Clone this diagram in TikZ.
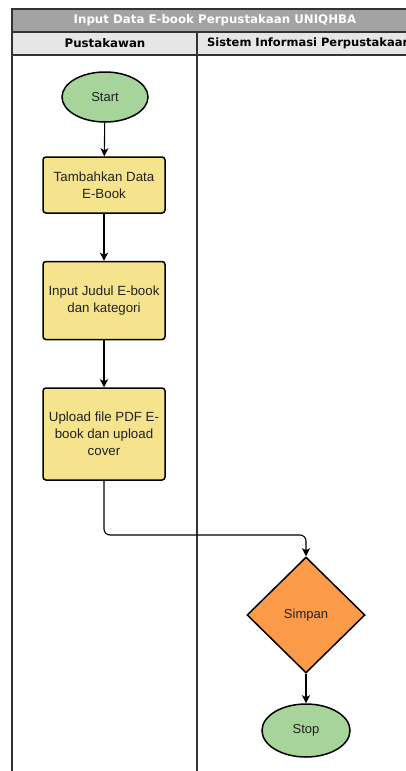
\documentclass[tikz,border=0pt]{standalone}
\usepackage{fontspec}
\setmainfont{Liberation Sans}
\newfontfamily\headfont{DejaVu Sans}
\usetikzlibrary{shapes.geometric,arrows.meta}

\definecolor{titlegray}{HTML}{A3A3A3}
\definecolor{headgray}{HTML}{E6E6E6}
\definecolor{framecol}{HTML}{333333}
\definecolor{termgreen}{HTML}{A6D49A}
\definecolor{procyellow}{HTML}{F5E38D}
\definecolor{decorange}{HTML}{FB9A48}
\definecolor{textdark}{HTML}{222222}

\tikzset{
  lane/.style={draw=framecol, line width=1.3pt},
  terminal/.style={ellipse, draw=black, line width=1.5pt, fill=termgreen,
    inner sep=0pt, font=\fontsize{13}{17}\selectfont, text=textdark},
  process/.style={rectangle, rounded corners=3pt, draw=black, line width=1.5pt,
    fill=procyellow, minimum width=122pt, inner sep=0pt, align=center,
    font=\fontsize{13.3}{17}\selectfont, text=textdark},
  decision/.style={diamond, draw=black, line width=1.5pt, fill=decorange,
    inner sep=0pt, font=\fontsize{13}{17}\selectfont, text=textdark},
  flow/.style={draw=black, line width=1.1pt,
    -{Stealth[length=8pt,width=8pt,inset=2pt]}},
  headtext/.style={font=\headfont\bfseries\fontsize{11.8}{14}\selectfont}
}

\begin{document}
\begin{tikzpicture}[x=1pt,y=-1pt]
\useasboundingbox (0,0) rectangle (406,771);

% swimlane frame, cut at the right and bottom edges
\begin{scope}
  \clip (0,0) rectangle (406,771);
  \fill[titlegray] (12,9) rectangle (430,32);
  \fill[headgray] (12,32) rectangle (430,55);
  \draw[lane] (430,9) -- (12,9) -- (12,780);
  \draw[lane] (12,32) -- (430,32);
  \draw[lane] (12,55) -- (430,55);
  \draw[lane] (197,32) -- (197,780);
  \node[headtext, text=white] (title) at (215,20.5) {Input Data E-book Perpustakaan UNIQHBA};
  \node[headtext, text=black] (lane1) at (105,43.5) {Pustakawan};
  \node[headtext, text=black, font=\headfont\bfseries\fontsize{11.5}{14}\selectfont]
    (lane2) at (309,43.5) {Sistem Informasi Perpustakaan};
\end{scope}

% flow nodes
\node[terminal, minimum width=86pt, minimum height=50pt] (start) at (105,97) {Start};
\node[process, minimum height=56pt] (tambah) at (104,185) {Tambahkan Data\\E-Book};
\node[process, minimum height=78pt] (judul) at (104,300.5) {Input Judul E-book\\dan kategori};
\node[process, minimum height=92pt] (upload) at (104,434) {Upload file PDF E-\\book dan upload\\cover};
\node[decision, minimum width=118pt, minimum height=116pt] (simpan) at (306,615) {Simpan};
\node[terminal, minimum width=88pt, minimum height=53pt] (stop) at (306,730.5) {Stop};

\coordinate (bend) at (200,535);

% connectors
\draw[flow] (start) -- (tambah);
\draw[flow] (tambah) -- (judul);
\draw[flow] (judul) -- (upload);
\draw[flow, rounded corners=6pt] (upload.south) |- (bend) -| (simpan.north);
\draw[flow] (simpan) -- (stop);
\end{tikzpicture}
\end{document}
